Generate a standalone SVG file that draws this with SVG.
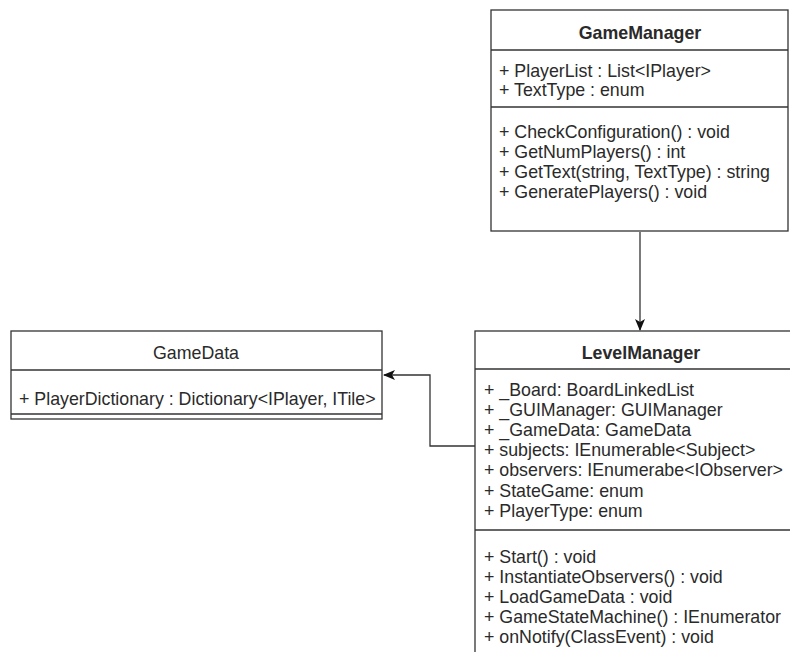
<svg xmlns="http://www.w3.org/2000/svg" width="790" height="652" viewBox="0 0 790 652">
<defs>
<style>
.box{fill:#fff;stroke:#333;stroke-width:1.3}
.ln{stroke:#333;stroke-width:1.3;fill:none}
.t{font-family:"Liberation Sans",Arial,sans-serif;font-size:17.8px;fill:#2a2a2a}
.h{font-family:"Liberation Sans",Arial,sans-serif;font-size:17.8px;fill:#2a2a2a;text-anchor:middle}
.b{font-weight:bold}
</style>
<marker id="arr" viewBox="0 0 12 10" refX="11" refY="5" markerWidth="12" markerHeight="10" markerUnits="userSpaceOnUse" orient="auto">
<path d="M0,0 L12,5 L0,10 L3,5 Z" fill="#111"/>
</marker>
</defs>
<rect width="790" height="652" fill="#fff"/>
<g id="connectors">
<path class="ln" d="M640,232 L640,330" marker-end="url(#arr)"/>
<path class="ln" d="M475,446 L430,446 L430,375 L384,375" marker-end="url(#arr)"/>
</g>
<g id="GameManager">
<rect class="box" x="491" y="10" width="297" height="221"/>
<line class="ln" x1="491" y1="50" x2="788" y2="50"/>
<line class="ln" x1="491" y1="107" x2="788" y2="107"/>
<text class="h b" x="640" y="39">GameManager</text>
<text class="t" x="499" y="77">+ PlayerList : List&lt;IPlayer&gt;</text>
<text class="t" x="499" y="96">+ TextType : enum</text>
<text class="t" x="499" y="138">+ CheckConfiguration() : void</text>
<text class="t" x="499" y="158">+ GetNumPlayers() : int</text>
<text class="t" x="499" y="178">+ GetText(string, TextType) : string</text>
<text class="t" x="499" y="198">+ GeneratePlayers() : void</text>
</g>
<g id="GameData">
<rect class="box" x="11" y="331" width="371" height="88"/>
<line class="ln" x1="11" y1="370" x2="382" y2="370"/>
<line class="ln" x1="11" y1="414" x2="382" y2="414"/>
<text class="h" x="196" y="359">GameData</text>
<text class="t" x="19" y="405">+ PlayerDictionary : Dictionary&lt;IPlayer, ITile&gt;</text>
</g>
<g id="LevelManager">
<rect class="box" x="475" y="331" width="333" height="340"/>
<line class="ln" x1="475" y1="369" x2="808" y2="369"/>
<line class="ln" x1="475" y1="530" x2="808" y2="530"/>
<text class="h b" x="641" y="359">LevelManager</text>
<text class="t" x="484" y="396">+ _Board: BoardLinkedList</text>
<text class="t" x="484" y="416">+ _GUIManager: GUIManager</text>
<text class="t" x="484" y="436">+ _GameData: GameData</text>
<text class="t" x="484" y="456">+ subjects: IEnumerable&lt;Subject&gt;</text>
<text class="t" x="484" y="476">+ observers: IEnumerabe&lt;IObserver&gt;</text>
<text class="t" x="484" y="497">+ StateGame: enum</text>
<text class="t" x="484" y="517">+ PlayerType: enum</text>
<text class="t" x="484" y="563">+ Start() : void</text>
<text class="t" x="484" y="583">+ InstantiateObservers() : void</text>
<text class="t" x="484" y="603">+ LoadGameData : void</text>
<text class="t" x="484" y="623">+ GameStateMachine() : IEnumerator</text>
<text class="t" x="484" y="643">+ onNotify(ClassEvent) : void</text>
</g>
</svg>
